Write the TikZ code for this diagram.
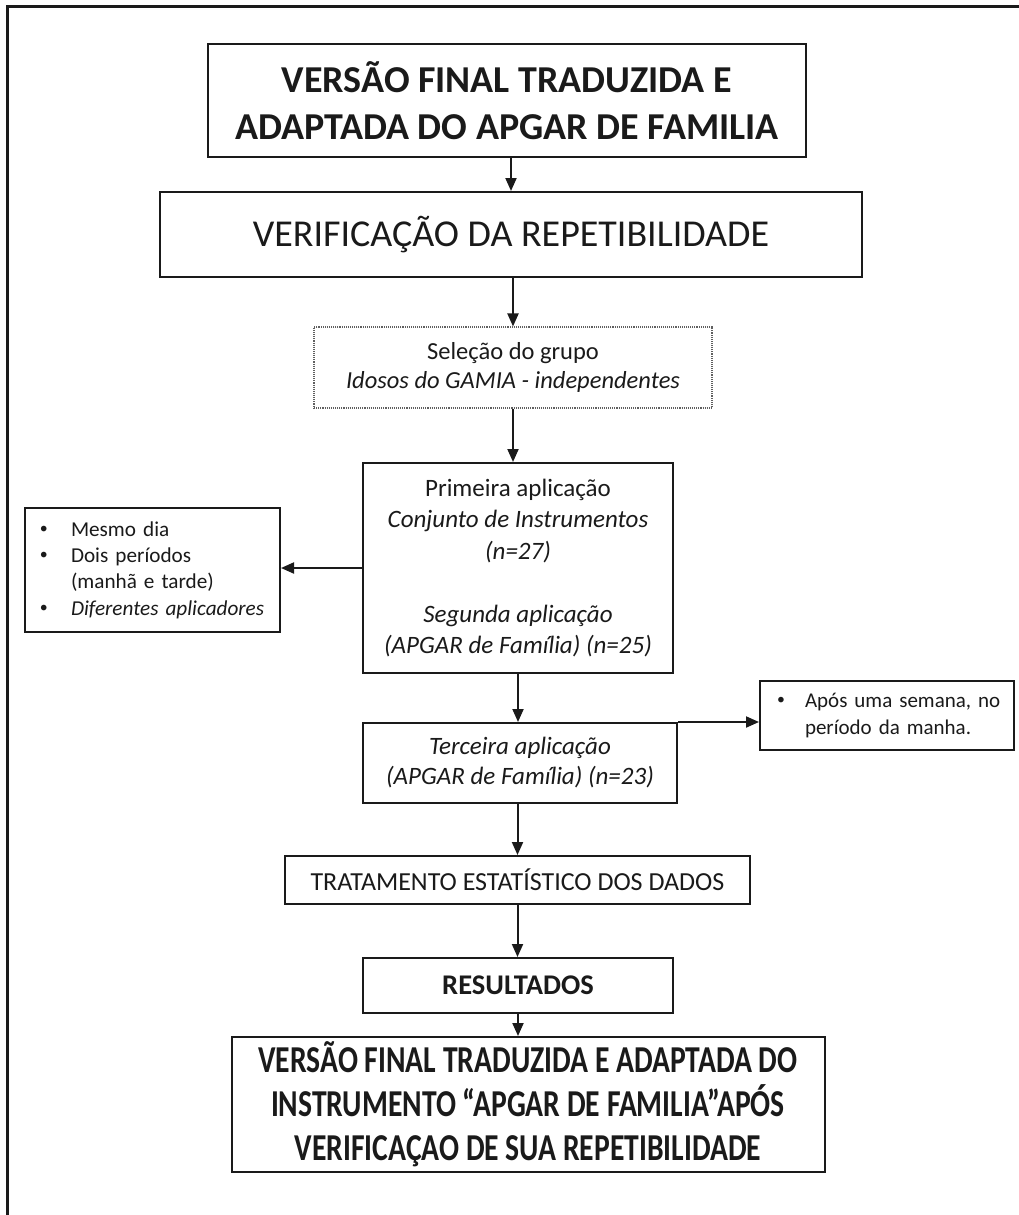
\documentclass[tikz,border=0pt]{standalone}
\usepackage{fontspec}
\setmainfont{Carlito}
\newfontfamily\condfont[FakeStretch=0.78]{Carlito}
\usetikzlibrary{arrows.meta}
\definecolor{ink}{HTML}{1A1A1A}
\newcommand{\fs}[2]{\fontsize{#1}{#2}\selectfont}
% bullet item: left gap, then a box holding a small bullet
\newcommand{\bul}[2]{\hspace*{#1}\makebox[#2][l]{\raisebox{0.12em}{\scalebox{0.75}{•}}}}
\begin{document}
\begin{tikzpicture}[x=1pt,y=-1pt,
  box/.style={draw=ink, line width=2pt, text=ink, inner sep=0pt, align=center},
  dotbox/.style={draw=ink!70, line width=1.1pt, densely dotted, text=ink, inner sep=0pt, align=center},
  arr/.style={draw=ink, line width=2pt, -{Triangle[length=13pt,width=11pt]}}]
\useasboundingbox (0,0) rectangle (1019,1215);
\fill[white] (0,0) rectangle (1019,1215);
% outer frame: top and left sides only
\draw[ink, line width=3pt] (7,1215) -- (7,7) -- (1019,7);

\node[box, minimum width=598pt, minimum height=113pt, font=\bfseries\fs{38}{47}] (b1) at (507,100.5)
  {VERSÃO FINAL TRADUZIDA E\\ADAPTADA DO APGAR DE FAMILIA};
\node[box, minimum width=702pt, minimum height=85pt, font=\fs{38}{44}] (b2) at (511,234.5)
  {VERIFICAÇÃO DA REPETIBILIDADE};
\node[dotbox, minimum width=398pt, minimum height=81pt, font=\fs{24.5}{29}] (b3) at (513,367.5)
  {Seleção do grupo\\\textit{Idosos do GAMIA - independentes}};
\node[box, minimum width=310pt, minimum height=210pt, font=\fs{25}{31.5}] (b4) at (518,568)
  {Primeira aplicação\\\textit{Conjunto de Instrumentos}\\\textit{(n=27)}\\[31.5pt]
   \textit{Segunda aplicação}\\\textit{(APGAR de Família) (n=25)}};
\node[box, minimum width=255pt, minimum height=124pt, align=left, inner xsep=2pt,
      text width=251pt, font=\fs{21.2}{26.3}] (side1) at (152.5,570)
  {\mbox{\bul{13pt}{31pt}Mesmo dia}\\
   \mbox{\bul{13pt}{31pt}Dois períodos}\\
   \mbox{\hspace*{44pt}(manhã e tarde)}\\
   \mbox{\bul{13pt}{31pt}\textit{Diferentes aplicadores}}};
\node[box, minimum width=314pt, minimum height=80pt, font=\fs{25}{30}] (b5) at (520,763)
  {\textit{Terceira aplicação}\\\textit{(APGAR de Família) (n=23)}};
\node[box, minimum width=254pt, minimum height=69pt, align=left, inner xsep=2pt,
      text width=250pt, font=\fs{21}{27}] (side2) at (887,715.5)
  {\mbox{\bul{15pt}{28pt}Após uma semana, no}\\
   \mbox{\hspace*{43pt}período da manha.}};
\node[box, minimum width=465pt, minimum height=48pt, font=\fs{26}{30}] (b6) at (517.5,880)
  {TRATAMENTO ESTATÍSTICO DOS DADOS};
\node[box, minimum width=310pt, minimum height=55pt, font=\bfseries\fs{28.5}{32}] (b7) at (518,985.5)
  {RESULTADOS};
\node[box, minimum width=593pt, minimum height=135pt, font=\condfont\bfseries\fs{38}{44}] (b8) at (528,1104.5)
  {VERSÃO FINAL TRADUZIDA E ADAPTADA DO\\INSTRUMENTO “APGAR DE FAMILIA”APÓS\\VERIFICAÇAO DE SUA REPETIBILIDADE};

% connectors
\draw[arr] (b1.south -| b2.north) -- (b2.north);
\draw[arr] (b2.south -| b3.north) -- (b3.north);
\draw[arr] (b3.south) -- (b3.south |- b4.north);
\draw[arr] (b4.south) -- (b4.south |- b5.north);
\draw[arr] (b5.south -| b6.north) -- (b6.north);
\draw[arr] (b6.south) -- (b6.south |- b7.north);
\draw[arr] (b7.south) -- (b7.south |- b8.north);
\draw[arr] (b4.west) -- (b4.west -| side1.east);
\draw[arr] (b5.north east) -- (b5.north east -| side2.west);
\end{tikzpicture}
\end{document}
